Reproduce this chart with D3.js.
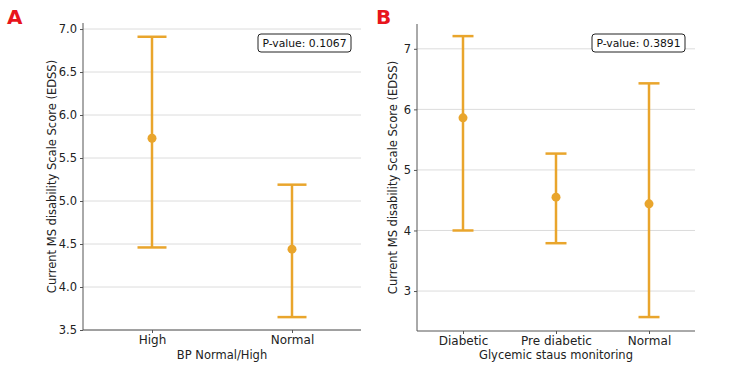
<!DOCTYPE html>
<html>
<head>
<meta charset="utf-8">
<script src="https://cdn.jsdelivr.net/npm/d3@7"></script>
<style>
  body { margin: 0; background: #fff; }
  svg text { font-family: "DejaVu Sans", sans-serif; }
</style>
</head>
<body>
<svg id="chart" width="750" height="375"></svg>
<script>
// panel A - blood pressure
var bpGroups = ["High", "Normal"];
var bpMean = [5.73, 4.44];
var bpLower = [4.46, 3.65];
var bpUpper = [6.91, 5.19];
var bpTicks = [3.5, 4.0, 4.5, 5.0, 5.5, 6.0, 6.5, 7.0];

// panel B - glycemic status
var glyGroups = ["Diabetic", "Pre diabetic", "Normal"];
var glyMean = [5.86, 4.55, 4.44];
var glyLower = [4.0, 3.79, 2.57];
var glyUpper = [7.21, 5.27, 6.43];
var glyTicks = [3, 4, 5, 6, 7];

var ORANGE = "#e9a52c";
var svg = d3.select("#chart");

function drawPanel(o) {
    var g = svg.append("g");

    var y = d3.scaleLinear().domain(o.domain).range([o.bottom, o.top]);
    var x = d3.scalePoint().domain(o.groups).range(o.xRange);

    // gridlines
    g.selectAll("line.grid").data(o.ticks).enter().append("line")
        .attr("x1", o.left).attr("x2", o.right)
        .attr("y1", function (d) { return y(d); })
        .attr("y2", function (d) { return y(d); })
        .attr("stroke", "#dcdcdc").attr("stroke-width", 1);

    // y axis
    var yAxis = d3.axisLeft(y).tickValues(o.ticks).tickSize(3).tickPadding(3)
        .tickFormat(o.fmt);
    var ya = g.append("g").attr("transform", "translate(" + o.left + ",0)").call(yAxis);
    ya.select(".domain").attr("stroke", "#555").attr("d", "M0," + o.bottom + "V" + o.top);
    ya.selectAll(".tick line").attr("stroke", "#555");
    ya.selectAll(".tick text").attr("font-size", 11.5).attr("fill", "#222");

    // x axis
    var xAxis = d3.axisBottom(x).tickSize(3).tickPadding(2);
    var xa = g.append("g").attr("transform", "translate(0," + o.bottom + ")").call(xAxis);
    xa.select(".domain").attr("stroke", "#555").attr("d", "M" + o.left + ",0H" + o.right);
    xa.selectAll(".tick line").attr("stroke", "#555");
    xa.selectAll(".tick text").attr("font-size", 12).attr("fill", "#222");

    // error bars
    var rows = o.groups.map(function (k, i) {
        return { k: k, m: o.mean[i], lo: o.lower[i], hi: o.upper[i] };
    });
    var bars = g.selectAll("g.bar").data(rows).enter().append("g");
    bars.append("line")
        .attr("x1", function (d) { return x(d.k); }).attr("x2", function (d) { return x(d.k); })
        .attr("y1", function (d) { return y(d.lo); }).attr("y2", function (d) { return y(d.hi); })
        .attr("stroke", ORANGE).attr("stroke-width", 2.5);
    ["lo", "hi"].forEach(function (f) {
        bars.append("line")
            .attr("x1", function (d) { return x(d.k) - o.cap; })
            .attr("x2", function (d) { return x(d.k) + o.cap; })
            .attr("y1", function (d) { return y(d[f]); })
            .attr("y2", function (d) { return y(d[f]); })
            .attr("stroke", ORANGE).attr("stroke-width", 2.5);
    });
    bars.append("circle")
        .attr("cx", function (d) { return x(d.k); })
        .attr("cy", function (d) { return y(d.m); })
        .attr("r", 4.5).attr("fill", ORANGE);

    // p-value box
    var pb = g.append("g").attr("transform", "translate(" + o.pbox[0] + "," + o.pbox[1] + ")");
    pb.append("rect").attr("x", 0).attr("y", 0).attr("width", 93).attr("height", 18)
        .attr("rx", 3).attr("fill", "#fff").attr("stroke", "#222").attr("stroke-width", 1);
    pb.append("text").attr("x", 46.5).attr("y", 13).attr("text-anchor", "middle")
        .attr("font-size", 10.8).attr("fill", "#111").text(o.ptext);

    // axis titles
    g.append("text")
        .attr("transform", "translate(" + o.ylabX + "," + ((o.top + o.bottom) / 2) + ")rotate(-90)")
        .attr("text-anchor", "middle").attr("font-size", 11.5).attr("fill", "#222")
        .text("Current MS disability Scale Score (EDSS)");
    g.append("text")
        .attr("x", (o.xRange[0] + o.xRange[1]) / 2).attr("y", 359)
        .attr("text-anchor", "middle").attr("font-size", 11.5).attr("fill", "#222")
        .text(o.xlabel);

    // panel letter
    g.append("text").attr("x", o.letterX).attr("y", 24)
        .attr("font-size", 20).attr("font-weight", "bold").attr("fill", "#e8141c")
        .attr("font-family", "Liberation Sans, Arial, sans-serif")
        .text(o.letter);
}

drawPanel({
    groups: bpGroups, mean: bpMean, lower: bpLower, upper: bpUpper, ticks: bpTicks,
    domain: [3.5, 7.07], top: 23, bottom: 330, left: 83, right: 361,
    xRange: [152, 292], cap: 14.5, fmt: d3.format(".1f"),
    pbox: [258, 34], ptext: "P-value: 0.1067", ylabX: 56,
    xlabel: "BP Normal/High", letter: "A", letterX: 7
});

drawPanel({
    groups: glyGroups, mean: glyMean, lower: glyLower, upper: glyUpper, ticks: glyTicks,
    domain: [2.34, 7.41], top: 24, bottom: 331, left: 417, right: 695,
    xRange: [463, 649], cap: 10.5, fmt: d3.format("d"),
    pbox: [592, 34], ptext: "P-value: 0.3891", ylabX: 397,
    xlabel: "Glycemic staus monitoring", letter: "B", letterX: 376
});
</script>
</body>
</html>
